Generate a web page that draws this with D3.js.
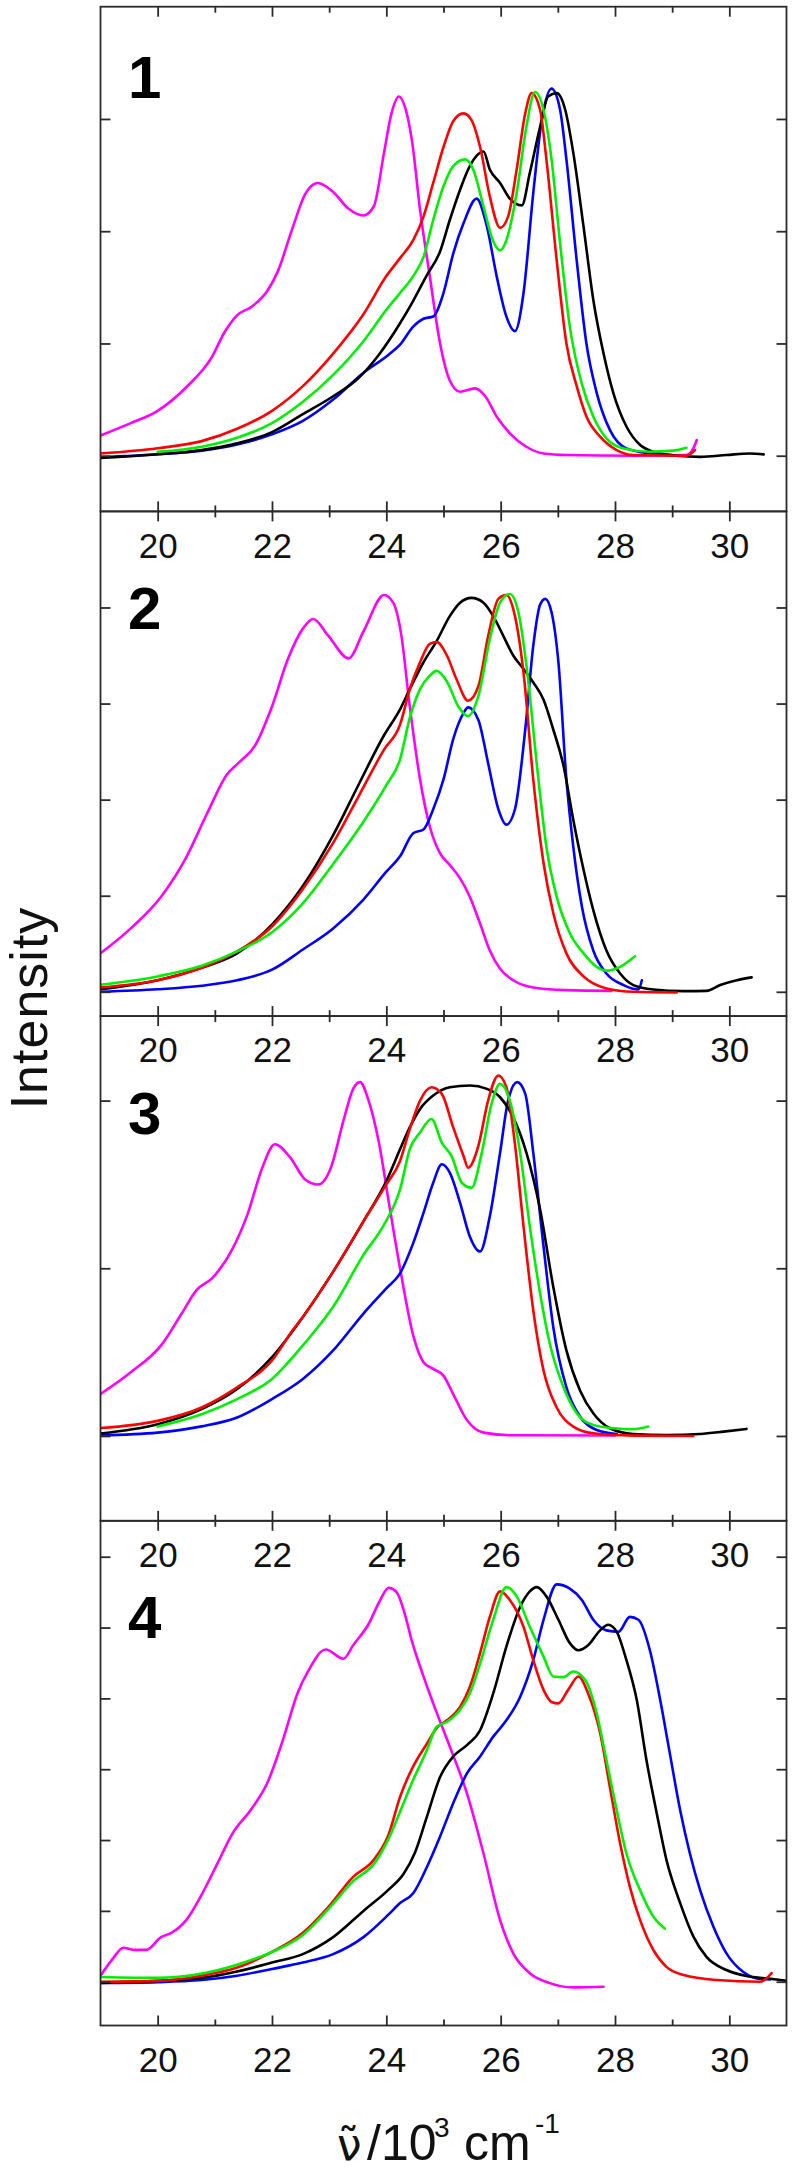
<!DOCTYPE html>
<html><head><meta charset="utf-8">
<script src="https://cdn.jsdelivr.net/npm/d3@7"></script>
<style>html,body{margin:0;padding:0;background:#fff;}svg{display:block;}</style>
</head><body>
<svg id="chart" width="792" height="2172"></svg>
<script>
// ---------------- data ----------------
const panelLabels = ["1", "2", "3", "4"];
const xDomain = [19, 31];
const xMajorTicks = [20, 22, 24, 26, 28, 30];
const xMinorTicks = [21, 23, 25, 27, 29];
const yDomains = [[-0.496, 4.0], [-0.253, 5.0], [-0.506, 2.504], [-0.618, 6.507]];
const yTicks = [[0, 1, 2, 3], [0, 1, 2, 3, 4], [0, 1, 2], [0, 1, 2, 3, 4, 5, 6]];
const seriesNames = ["magenta", "blue", "black", "red", "green"];

// panel 1
const p1Magenta = [[19.0,0.18],[19.53,0.29],[20.0,0.40],[20.5,0.61],[20.95,0.88],[21.17,1.10],[21.39,1.25],[21.65,1.33],[21.92,1.47],[22.1,1.64],[22.36,2.03],[22.58,2.33],[22.8,2.43],[23.07,2.35],[23.34,2.20],[23.6,2.14],[23.78,2.22],[23.96,2.70],[24.09,3.05],[24.22,3.20],[24.33,3.10],[24.45,2.80],[24.59,2.19],[24.76,1.60],[24.94,1.0],[25.11,0.67],[25.29,0.57],[25.55,0.60],[25.73,0.53],[25.93,0.35],[26.16,0.20],[26.45,0.08],[26.75,0.02],[27.15,0.006],[28.32,0],[29.25,0.006],[29.37,0.065],[29.43,0.14]];
const p1Red = [[19.0,0.02],[20,0.067],[20.77,0.13],[21.39,0.24],[22.0,0.40],[22.54,0.62],[23.07,0.91],[23.6,1.26],[24.0,1.6],[24.24,1.76],[24.47,1.92],[24.65,2.13],[24.82,2.43],[25.0,2.75],[25.17,2.98],[25.35,3.05],[25.49,2.99],[25.64,2.75],[25.81,2.31],[25.99,2.03],[26.13,2.13],[26.28,2.55],[26.43,3.05],[26.54,3.23],[26.69,3.08],[26.8,2.64],[26.98,1.74],[27.15,1.0],[27.33,0.62],[27.5,0.35],[27.74,0.17],[28.03,0.05],[28.32,0.006],[29.25,0],[29.4,0.05]];
const p1Green = [[20,0.035],[20.77,0.08],[21.39,0.16],[22.0,0.29],[22.54,0.48],[23.07,0.72],[23.6,1.02],[24.0,1.3],[24.24,1.45],[24.47,1.60],[24.65,1.77],[24.82,2.10],[25.0,2.40],[25.17,2.58],[25.38,2.64],[25.52,2.55],[25.7,2.22],[25.87,1.91],[25.99,1.83],[26.1,1.92],[26.28,2.34],[26.45,2.93],[26.6,3.24],[26.75,3.08],[26.89,2.64],[27.04,1.89],[27.21,1.15],[27.42,0.64],[27.62,0.35],[27.85,0.155],[28.15,0.065],[28.61,0.036],[29.02,0.045],[29.25,0.07]];
const p1Black = [[19.0,-0.02],[20,0.013],[20.77,0.05],[21.39,0.11],[22.0,0.21],[22.54,0.37],[23.07,0.53],[23.51,0.69],[23.87,0.9],[24.24,1.18],[24.47,1.38],[24.7,1.60],[24.94,1.82],[25.11,2.10],[25.29,2.37],[25.46,2.58],[25.7,2.71],[25.81,2.55],[25.99,2.43],[26.16,2.29],[26.37,2.23],[26.51,2.52],[26.69,2.93],[26.83,3.20],[26.98,3.23],[27.13,3.08],[27.27,2.70],[27.45,2.04],[27.62,1.39],[27.8,0.91],[27.97,0.56],[28.2,0.26],[28.44,0.095],[28.67,0.036],[29.08,0],[29.49,-0.01],[29.95,0.006],[30.36,0.02],[30.6,0.012]];
const p1Blue = [[19.0,-0.013],[20,0.013],[20.77,0.045],[21.39,0.10],[22.0,0.19],[22.54,0.31],[23.07,0.50],[23.6,0.74],[24.04,0.9],[24.24,0.99],[24.47,1.15],[24.65,1.22],[24.82,1.24],[25.0,1.45],[25.17,1.80],[25.35,2.07],[25.58,2.29],[25.76,2.04],[25.93,1.60],[26.1,1.24],[26.25,1.11],[26.4,1.45],[26.57,2.34],[26.72,2.99],[26.89,3.27],[27.04,3.08],[27.15,2.64],[27.33,1.74],[27.5,1.0],[27.68,0.56],[27.91,0.23],[28.2,0.065],[28.61,0.02],[29.0,0.005]];

// panel 2
const p2Magenta = [[19,0.40],[19.53,0.66],[20.06,0.99],[20.5,1.40],[20.86,1.85],[21.21,2.26],[21.43,2.39],[21.7,2.56],[22.0,2.97],[22.27,3.45],[22.54,3.78],[22.72,3.88],[22.98,3.71],[23.34,3.47],[23.6,3.75],[23.96,4.13],[24.12,4.05],[24.26,3.72],[24.41,2.97],[24.59,2.21],[24.76,1.72],[24.94,1.44],[25.11,1.32],[25.29,1.18],[25.46,0.99],[25.64,0.71],[25.81,0.43],[25.99,0.24],[26.22,0.12],[26.57,0.045],[27.15,0.017],[27.94,0.01]];
const p2Black = [[19,0.026],[20,0.12],[20.77,0.25],[21.39,0.40],[22.0,0.70],[22.54,1.10],[23.07,1.63],[23.51,2.15],[23.96,2.67],[24.24,2.94],[24.41,3.15],[24.65,3.43],[24.88,3.65],[25.11,3.91],[25.29,4.05],[25.49,4.10],[25.7,4.05],[25.87,3.91],[26.05,3.70],[26.22,3.50],[26.4,3.36],[26.57,3.22],[26.75,3.04],[26.92,2.73],[27.1,2.35],[27.27,1.79],[27.45,1.27],[27.62,0.85],[27.85,0.43],[28.09,0.19],[28.32,0.07],[28.67,0.024],[29.2,0.007],[29.6,0.01],[29.84,0.07],[30.13,0.12],[30.39,0.15]];
const p2Red = [[19,0.045],[20,0.12],[20.77,0.25],[21.39,0.42],[22.0,0.68],[22.54,1.07],[23.07,1.55],[23.51,2.03],[23.96,2.52],[24.24,2.78],[24.41,3.15],[24.59,3.43],[24.76,3.62],[24.88,3.64],[25.06,3.50],[25.23,3.25],[25.43,3.03],[25.61,3.18],[25.78,3.70],[25.96,4.09],[26.1,4.13],[26.25,3.91],[26.4,3.32],[26.57,2.21],[26.75,1.34],[26.92,0.82],[27.15,0.40],[27.45,0.16],[27.85,0.035],[28.32,0],[29.08,-0.007]];
const p2Green = [[19,0.074],[20,0.16],[20.77,0.27],[21.39,0.42],[22.0,0.62],[22.54,0.92],[23.07,1.33],[23.6,1.77],[24.0,2.15],[24.24,2.42],[24.41,2.85],[24.59,3.15],[24.76,3.29],[24.88,3.34],[25.06,3.23],[25.26,2.97],[25.43,2.87],[25.61,3.08],[25.81,3.67],[25.99,4.05],[26.16,4.14],[26.31,3.95],[26.48,3.25],[26.63,2.38],[26.8,1.51],[26.98,0.99],[27.21,0.61],[27.45,0.40],[27.68,0.26],[27.85,0.22],[28.09,0.26],[28.35,0.37]];
const p2Blue = [[19,0],[20,0.026],[20.77,0.063],[21.39,0.12],[22.0,0.23],[22.54,0.44],[23.07,0.66],[23.6,0.96],[24.0,1.25],[24.24,1.41],[24.47,1.65],[24.65,1.69],[24.82,1.90],[25.0,2.21],[25.17,2.63],[25.35,2.90],[25.43,2.96],[25.61,2.83],[25.78,2.38],[25.96,1.90],[26.1,1.74],[26.25,1.90],[26.43,2.73],[26.57,3.60],[26.69,4.03],[26.78,4.09],[26.89,3.95],[27.01,3.43],[27.15,2.21],[27.27,1.51],[27.42,0.89],[27.62,0.43],[27.85,0.19],[28.15,0.07],[28.41,0.024],[28.47,0.12]];

// panel 3
const p3Magenta = [[19,0.25],[19.53,0.38],[20.06,0.54],[20.42,0.73],[20.68,0.87],[20.95,0.94],[21.3,1.11],[21.57,1.32],[21.83,1.60],[22.05,1.74],[22.32,1.66],[22.58,1.53],[22.81,1.50],[23.03,1.60],[23.25,1.88],[23.42,2.07],[23.54,2.11],[23.69,2.00],[23.87,1.75],[24.05,1.38],[24.24,1.0],[24.47,0.6],[24.65,0.44],[24.82,0.40],[25.0,0.36],[25.17,0.25],[25.41,0.095],[25.7,0.02],[26.2,0.004],[28.0,0.003]];
const p3Black = [[19,0.015],[20,0.07],[20.77,0.16],[21.39,0.28],[22.0,0.47],[22.54,0.71],[23.07,0.98],[23.6,1.28],[24.0,1.52],[24.24,1.71],[24.41,1.84],[24.59,1.95],[24.82,2.03],[25.11,2.08],[25.46,2.09],[25.76,2.07],[25.99,2.02],[26.22,1.90],[26.45,1.69],[26.69,1.35],[26.92,0.89],[27.15,0.51],[27.39,0.27],[27.62,0.135],[27.91,0.046],[28.32,0.012],[28.9,0.006],[29.49,0.012],[29.9,0.026],[30.3,0.042]];
const p3Red = [[19,0.047],[20,0.09],[20.77,0.17],[21.39,0.29],[22.0,0.45],[22.36,0.63],[22.54,0.71],[23.07,0.98],[23.6,1.28],[24.0,1.5],[24.24,1.64],[24.41,1.83],[24.59,2.00],[24.79,2.08],[24.97,2.04],[25.17,1.84],[25.35,1.67],[25.43,1.60],[25.61,1.73],[25.78,2.00],[25.96,2.15],[26.1,2.08],[26.25,1.74],[26.4,1.25],[26.57,0.75],[26.75,0.39],[26.98,0.17],[27.27,0.056],[27.62,0.016],[28.32,0.002],[29.37,0]];
const p3Green = [[20,0.057],[20.77,0.13],[21.39,0.22],[22.0,0.34],[22.54,0.54],[23.07,0.77],[23.6,1.08],[23.96,1.26],[24.24,1.47],[24.41,1.71],[24.59,1.81],[24.79,1.89],[24.97,1.75],[25.14,1.67],[25.32,1.51],[25.49,1.48],[25.67,1.69],[25.84,1.98],[25.99,2.10],[26.16,2.00],[26.34,1.69],[26.51,1.25],[26.69,0.85],[26.86,0.55],[27.1,0.29],[27.33,0.135],[27.62,0.066],[27.97,0.046],[28.32,0.04],[28.58,0.056]];
const p3Blue = [[19,0.004],[20,0.02],[20.77,0.057],[21.39,0.11],[22.0,0.22],[22.54,0.34],[23.07,0.51],[23.6,0.73],[24.0,0.88],[24.24,0.97],[24.47,1.15],[24.65,1.33],[24.82,1.51],[24.97,1.62],[25.11,1.57],[25.29,1.39],[25.46,1.19],[25.64,1.10],[25.81,1.31],[25.99,1.69],[26.13,2.00],[26.29,2.11],[26.43,2.04],[26.57,1.69],[26.75,1.13],[26.92,0.65],[27.15,0.29],[27.39,0.115],[27.68,0.036],[28.03,0.012]];

// panel 4
const p4Magenta = [[19,0.085],[19.22,0.33],[19.4,0.48],[19.58,0.45],[19.8,0.45],[20.06,0.63],[20.24,0.69],[20.5,0.87],[20.77,1.23],[21.04,1.66],[21.3,2.08],[21.65,2.45],[21.92,2.81],[22.19,3.41],[22.45,4.08],[22.63,4.38],[22.94,4.69],[23.25,4.56],[23.42,4.75],[23.69,5.05],[23.87,5.35],[24.04,5.56],[24.18,5.5],[24.32,5.2],[24.45,4.8],[24.65,4.31],[24.82,3.93],[25.11,3.32],[25.41,2.66],[25.7,1.81],[25.99,0.87],[26.22,0.40],[26.51,0.12],[26.86,-0.02],[27.27,-0.08],[27.8,-0.07]];
const p4Red = [[19,0],[20,0.012],[20.77,0.085],[21.39,0.2],[22.0,0.42],[22.54,0.69],[22.98,1.05],[23.42,1.48],[23.78,1.72],[24.04,2.08],[24.24,2.61],[24.47,3.04],[24.71,3.36],[24.88,3.58],[25.06,3.69],[25.29,3.88],[25.46,4.16],[25.64,4.64],[25.81,5.15],[25.99,5.51],[26.16,5.39],[26.4,5.01],[26.57,4.54],[26.75,4.12],[26.89,3.95],[27.01,3.93],[27.18,4.12],[27.36,4.31],[27.53,4.07],[27.74,3.51],[27.91,2.75],[28.09,1.95],[28.26,1.34],[28.44,0.87],[28.67,0.45],[28.9,0.21],[29.2,0.094],[29.78,0.024],[30.54,0],[30.65,0.047],[30.74,0.12]];
const p4Green = [[19,0.067],[20,0.054],[20.77,0.115],[21.39,0.24],[22.0,0.42],[22.54,0.66],[22.98,1.02],[23.42,1.42],[23.78,1.66],[24.04,2.02],[24.24,2.40],[24.47,2.85],[24.71,3.27],[24.88,3.6],[25.06,3.67],[25.29,3.84],[25.46,4.07],[25.64,4.49],[25.87,5.11],[26.1,5.57],[26.28,5.44],[26.51,5.01],[26.75,4.59],[26.92,4.31],[27.1,4.30],[27.27,4.38],[27.48,4.26],[27.68,3.79],[27.85,3.13],[28.03,2.42],[28.2,1.81],[28.44,1.29],[28.67,0.92],[28.87,0.75]];
const p4Black = [[19,-0.018],[20,0.012],[20.77,0.054],[21.39,0.145],[22.0,0.27],[22.54,0.39],[23.07,0.63],[23.6,1.0],[24.04,1.30],[24.3,1.52],[24.5,1.82],[24.71,2.33],[24.94,2.89],[25.17,3.18],[25.41,3.34],[25.64,3.55],[25.87,4.07],[26.1,4.73],[26.34,5.29],[26.51,5.51],[26.63,5.57],[26.8,5.44],[27.01,5.11],[27.21,4.78],[27.36,4.68],[27.53,4.75],[27.74,4.96],[27.88,5.04],[28.03,4.94],[28.2,4.54],[28.38,3.98],[28.55,3.13],[28.73,2.38],[28.9,1.72],[29.14,1.11],[29.37,0.64],[29.6,0.35],[29.95,0.165],[30.3,0.08],[30.65,0.047],[31.0,0.014]];
const p4Blue = [[19,-0.018],[20,-0.006],[20.77,0.024],[21.39,0.085],[22.0,0.18],[22.54,0.27],[23.07,0.39],[23.6,0.63],[24.04,0.95],[24.24,1.11],[24.47,1.25],[24.71,1.62],[24.94,2.05],[25.17,2.52],[25.41,2.94],[25.64,3.18],[25.87,3.46],[26.1,3.69],[26.34,4.02],[26.57,4.54],[26.75,5.11],[26.98,5.61],[27.21,5.55],[27.42,5.39],[27.62,5.11],[27.85,4.96],[28.06,4.94],[28.26,5.15],[28.41,5.11],[28.61,4.68],[28.79,3.98],[28.96,3.22],[29.14,2.42],[29.31,1.81],[29.49,1.29],[29.72,0.78],[29.95,0.4],[30.24,0.14],[30.48,0.047],[30.71,0.033]];

const panelSeries = [
  {magenta: p1Magenta, blue: p1Blue, black: p1Black, red: p1Red, green: p1Green},
  {magenta: p2Magenta, blue: p2Blue, black: p2Black, red: p2Red, green: p2Green},
  {magenta: p3Magenta, blue: p3Blue, black: p3Black, red: p3Red, green: p3Green},
  {magenta: p4Magenta, blue: p4Blue, black: p4Black, red: p4Red, green: p4Green}
];

// ---------------- layout & style ----------------
const colors = {magenta: "#ff00ff", blue: "#0000ff", black: "#000000", red: "#ff0000", green: "#00ee00"};
const FONT = "'Liberation Sans', Arial, sans-serif";
const plotLeft = 100.5, plotRight = 786.5, plotTop = 6.7, panelH = 504.7;
const labelBaseline = [91, 118, 118, 117];
const axisColor = "#2a2a2a";

const svg = d3.select("#chart");
svg.append("rect").attr("width", 792).attr("height", 2172).attr("fill", "#fff");

const x = d3.scaleLinear().domain(xDomain).range([plotLeft, plotRight]);

panelSeries.forEach((series, i) => {
  const top = plotTop + i * panelH, bottom = top + panelH;
  const y = d3.scaleLinear().domain(yDomains[i]).range([bottom, top]);
  const g = svg.append("g");

  const clipId = "clip" + i;
  svg.append("clipPath").attr("id", clipId).append("rect")
    .attr("x", plotLeft).attr("y", top).attr("width", plotRight - plotLeft).attr("height", panelH);

  const line = d3.line().x(d => x(d[0])).y(d => y(d[1])).curve(d3.curveMonotoneX);
  const lines = g.append("g").attr("clip-path", `url(#${clipId})`);
  seriesNames.forEach(name => {
    lines.append("path").datum(series[name])
      .attr("d", line).attr("fill", "none")
      .attr("stroke", colors[name]).attr("stroke-width", 2.6)
      .attr("stroke-linejoin", "round").attr("stroke-linecap", "round");
  });

  const styleAxis = sel => {
    sel.select(".domain").remove();
    sel.selectAll(".tick line").attr("stroke", axisColor).attr("stroke-width", 1.8);
    sel.selectAll("text").attr("font-family", FONT).attr("font-size", 35).attr("fill", "#111");
  };
  const noLabels = sel => { sel.select(".domain").remove(); sel.selectAll(".tick text").remove();
    sel.selectAll(".tick line").attr("stroke", axisColor).attr("stroke-width", 1.8); };

  // bottom axis: inward ticks, labels below the frame
  g.append("g").attr("transform", `translate(0,${bottom})`)
    .call(d3.axisBottom(x).tickValues(xMajorTicks).tickSize(-10).tickPadding(21.5).tickFormat(d3.format("d")))
    .call(styleAxis);
  g.append("g").attr("transform", `translate(0,${bottom})`)
    .call(d3.axisBottom(x).tickValues(xMinorTicks).tickSize(-6)).call(noLabels);
  // top axis: inward ticks, no labels
  g.append("g").attr("transform", `translate(0,${top})`)
    .call(d3.axisTop(x).tickValues(xMajorTicks).tickSize(-10)).call(noLabels);
  g.append("g").attr("transform", `translate(0,${top})`)
    .call(d3.axisTop(x).tickValues(xMinorTicks).tickSize(-6)).call(noLabels);
  // left / right inward ticks
  g.append("g").attr("transform", `translate(${plotLeft},0)`)
    .call(d3.axisLeft(y).tickValues(yTicks[i]).tickSize(-10)).call(noLabels);
  g.append("g").attr("transform", `translate(${plotRight},0)`)
    .call(d3.axisRight(y).tickValues(yTicks[i]).tickSize(-10)).call(noLabels);

  // frame
  g.append("rect").attr("x", plotLeft).attr("y", top)
    .attr("width", plotRight - plotLeft).attr("height", panelH)
    .attr("fill", "none").attr("stroke", axisColor).attr("stroke-width", 1.8);

  // panel number
  g.append("text").attr("x", 128).attr("y", top + labelBaseline[i])
    .attr("font-family", FONT).attr("font-weight", "bold").attr("font-size", 60)
    .attr("fill", "#000").text(panelLabels[i]);
});

// y-axis title
svg.append("text")
  .attr("transform", "translate(47,1008) rotate(-90)")
  .attr("text-anchor", "middle")
  .attr("font-family", FONT).attr("font-size", 52).attr("letter-spacing", 1).attr("fill", "#111")
  .text("Intensity");

// x-axis title:  ν̃ /10^3 cm^-1  (one text element with positioned tspans)
const xt = svg.append("text").attr("font-family", FONT).attr("fill", "#111").attr("font-size", 50);
xt.append("tspan").attr("x", 337).attr("y", 2160).attr("font-family", "'DejaVu Sans', sans-serif")
  .attr("font-size", 44).text("\u03BD\u0303");
xt.append("tspan").attr("x", 367).attr("y", 2160).text("/10");
xt.append("tspan").attr("x", 434).attr("y", 2137).attr("font-size", 28).text("3");
xt.append("tspan").attr("x", 464).attr("y", 2160).text("cm");
xt.append("tspan").attr("x", 535).attr("y", 2133).attr("font-size", 28).text("-1");
</script>
</body></html>
